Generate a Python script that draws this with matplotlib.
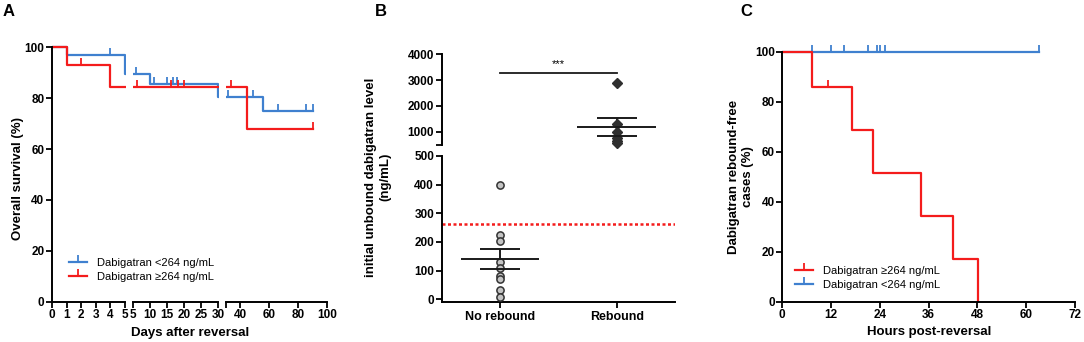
import numpy as np
import matplotlib
matplotlib.use('Agg')
import matplotlib.pyplot as plt
from matplotlib.lines import Line2D

plt.rcParams['font.family'] = ['Liberation Sans', 'DejaVu Sans']

# ---- Panel A: overall survival (Kaplan-Meier) ----
a_low_times = [0, 1, 5, 10, 30, 55.6, 90]
a_low_surv = [100, 96.9, 89.5, 85.6, 80.6, 75.0, 75.0]
a_low_cens = [4, 6, 11.2, 15.1, 16.9, 17.9, 31.5, 48.8, 66, 85.3, 90]
a_high_times = [0, 1, 4, 44.6, 90]
a_high_surv = [100, 92.9, 84.4, 67.8, 67.8]
a_high_cens = [2, 6.1, 16.1, 18.1, 20, 33.8, 90]

# ---- Panel B: initial unbound dabigatran level ----
categories = ['No rebound', 'Rebound']
no_rebound = [400, 224, 204, 131, 108, 82, 71, 32, 9]
rebound = [2870, 1280, 1000, 750, 620, 560]
group_mean = [140, 1190]
group_sem = [36, 350]
cutoff = 264

# ---- Panel C: rebound-free cases ----
c_high_times = [0, 7.2, 17.2, 22.2, 34.2, 42.0, 48.2]
c_high_surv = [100, 85.7, 68.6, 51.4, 34.3, 17.1, 0]
c_high_cens = [11.2]
c_low_times = [0, 63.1]
c_low_surv = [100, 100]
c_low_cens = [7.2, 12.1, 15.2, 21.1, 23.2, 24.0, 25.2, 63.1]

RED = '#f41c1c'
BLUE = '#3f80cf'
W, H = 1084, 342
TICK_FS = 8.5
LAB_FS = 9.5


def box(x0, x1, ytop, ybot):
    return [x0 / W, (H - ybot) / H, (x1 - x0) / W, (ybot - ytop) / H]


def step_level(times, surv, t):
    idx = np.searchsorted(times, t, side='right') - 1
    return np.asarray(surv)[idx]


def style(ax):
    for s in ['top', 'right']:
        ax.spines[s].set_visible(False)
    for s in ['left', 'bottom']:
        ax.spines[s].set_linewidth(1.4)
    ax.tick_params(width=1.3, length=4, labelsize=TICK_FS, pad=1.5)
    for lab in ax.get_xticklabels() + ax.get_yticklabels():
        lab.set_fontweight('bold')


def km(ax, times, surv, cens, color, xr):
    # keep only the part of the step curve that falls in this x range
    lo, hi = xr
    end = min(hi, times[-1])
    xs = [lo] + [t for t in times if lo < t < end] + [end]
    ys = list(step_level(times, surv, np.array(xs)))
    ax.plot(xs, ys, drawstyle='steps-post', color=color, lw=1.6)
    c = np.array([t for t in cens if lo <= t <= hi])
    if len(c):
        ax.plot(c, step_level(times, surv, c), ls='none', marker=2,
                ms=5, mew=1.3, color=color, clip_on=False)


fig = plt.figure(figsize=(W / 100, H / 100), dpi=100)

# Panel A: three pieces of a broken x axis
segs = [((0, 5.1), (0, 5), [0, 1, 2, 3, 4, 5], ['0', '1', '2', '3', '4', '5'], 52, 14.6),
        ((5, 30.3), (5, 30), [5, 10, 15, 20, 25, 30], ['5', '10', '15', '20', '25', '30'], 133, 3.4),
        ((30, 100), (30, 100), [30, 40, 60, 80, 100], ['', '40', '60', '80', '100'], 225.5, 1.45)]
for i, (xl, xb, xt, xtl, px0, scale) in enumerate(segs):
    ax = fig.add_axes(box(px0, px0 + (xl[1] - xl[0]) * scale, 44.8, 301.7))
    km(ax, a_low_times, a_low_surv, a_low_cens, BLUE, xl)
    km(ax, a_high_times, a_high_surv, a_high_cens, RED, xl)
    ax.set_xlim(*xl)
    ax.set_ylim(0, 101)
    ax.spines['bottom'].set_bounds(*xb)
    ax.set_xticks(xt)
    ax.set_xticklabels(xtl)
    if i == 0:
        ax.set_yticks([0, 20, 40, 60, 80, 100])
        ax.spines['left'].set_bounds(0, 100)
    else:
        ax.spines['left'].set_visible(False)
        ax.set_yticks([])
    ax.patch.set_alpha(0)
    style(ax)

fig.text(18 / W, 1 - 178 / H, 'Overall survival (%)', rotation=90, ha='center', va='center',
         fontsize=LAB_FS, fontweight='bold')
fig.text(190 / W, 1 - 333 / H, 'Days after reversal', ha='center', va='center',
         fontsize=LAB_FS, fontweight='bold')
h_a = [Line2D([], [], color=BLUE, lw=1.6, marker=2, ms=5, mew=1.3),
       Line2D([], [], color=RED, lw=1.6, marker=2, ms=5, mew=1.3)]
fig.legend(h_a, ['Dabigatran <264 ng/mL', 'Dabigatran \u2265264 ng/mL'], loc='center left',
           bbox_to_anchor=(69 / W, 1 - 270.3 / H), frameon=False, fontsize=8,
           handlelength=1.6, handletextpad=0.9, labelspacing=0.35, borderpad=0,
           borderaxespad=0, numpoints=1)

# Panel B: broken y axis
bu = fig.add_axes(box(441.7, 675, 54.3, 144.5))
bl = fig.add_axes(box(441.7, 675, 156, 301.6))
for ax in (bu, bl):
    ax.set_xlim(-0.5, 1.5)

bl.set_ylim(-8, 500)
bl.spines['left'].set_bounds(-8, 500)
bl.set_yticks([0, 100, 200, 300, 400, 500])
bl.set_xticks([0, 1])
bl.set_xticklabels(categories)
bl.axhline(cutoff, color=RED, lw=1.8, ls=(0, (1.2, 1.0)))
bl.plot(np.zeros(len(no_rebound)), no_rebound, ls='none', marker='o', ms=5.2,
        mfc='#c4c4c4', mec='#333333', mew=1.1, clip_on=False, zorder=3)
bl.hlines(group_mean[0], -0.335, 0.335, color='#1a1a1a', lw=1.4, zorder=4)
bl.hlines([group_mean[0] - group_sem[0], group_mean[0] + group_sem[0]], -0.175, 0.175,
          color='#1a1a1a', lw=1.4, zorder=4)
bl.vlines(0, group_mean[0] - group_sem[0], group_mean[0] + group_sem[0], color='#1a1a1a', lw=1.4, zorder=2)
style(bl)
bl.tick_params(axis='x', labelsize=9, pad=3)

bu.set_ylim(500, 4000)
bu.set_yticks([500, 1000, 2000, 3000, 4000])
bu.set_yticklabels(['', '1000', '2000', '3000', '4000'])
bu.spines['bottom'].set_visible(False)
bu.set_xticks([])
bu.plot(np.ones(len(rebound)), rebound, ls='none', marker='D', ms=5.5,
        color='#2f2f2f', clip_on=False, zorder=3)
bu.hlines(group_mean[1], 1 - 0.337, 1 + 0.337, color='#1a1a1a', lw=1.4, zorder=4)
bu.hlines([group_mean[1] - group_sem[1], group_mean[1] + group_sem[1]], 1 - 0.17, 1 + 0.17,
          color='#1a1a1a', lw=1.4, zorder=4)
bu.vlines(1, group_mean[1] - group_sem[1], group_mean[1] + group_sem[1], color='#1a1a1a', lw=1.4, zorder=2)
bu.plot([0, 1], [3280, 3280], color='#1a1a1a', lw=1.3)
bu.text(0.5, 3420, '***', ha='center', va='bottom', fontsize=8)
style(bu)
for ax in (bu, bl):
    ax.patch.set_alpha(0)

fig.text(378 / W, 1 - 177 / H, 'initial unbound dabigatran level\n(ng/mL)', rotation=90,
         ha='center', va='center', fontsize=LAB_FS, fontweight='bold', multialignment='center',
         linespacing=1.3)

# Panel C
cx = fig.add_axes(box(782.3, 1075, 46.7, 301.7))
km(cx, c_low_times, c_low_surv, c_low_cens, BLUE, (0, 72))
km(cx, c_high_times, c_high_surv, c_high_cens, RED, (0, 72))
cx.set_xlim(0, 72)
cx.set_ylim(0, 102)
cx.spines['left'].set_bounds(0, 100)
cx.set_xticks(np.arange(0, 73, 12))
cx.set_yticks([0, 20, 40, 60, 80, 100])
cx.patch.set_alpha(0)
style(cx)
fig.text(741 / W, 1 - 177 / H, 'Dabigatran rebound-free\ncases (%)', rotation=90,
         ha='center', va='center', fontsize=LAB_FS, fontweight='bold', multialignment='center',
         linespacing=1.3)
fig.text(929 / W, 1 - 332 / H, 'Hours post-reversal', ha='center', va='center',
         fontsize=LAB_FS, fontweight='bold')
h_c = [Line2D([], [], color=RED, lw=1.6, marker=2, ms=5, mew=1.3),
       Line2D([], [], color=BLUE, lw=1.6, marker=2, ms=5, mew=1.3)]
fig.legend(h_c, ['Dabigatran \u2265264 ng/mL', 'Dabigatran <264 ng/mL'], loc='center left',
           bbox_to_anchor=(795 / W, 1 - 278.3 / H), frameon=False, fontsize=8,
           handlelength=1.6, handletextpad=0.9, labelspacing=0.35, borderpad=0,
           borderaxespad=0, numpoints=1)

# panel letters
for x, s in [(3, 'A'), (375, 'B'), (740, 'C')]:
    fig.text(x / W, 1 - 12 / H, s, ha='left', va='center', fontsize=12, fontweight='bold')

fig.savefig('out.png', dpi=100)
